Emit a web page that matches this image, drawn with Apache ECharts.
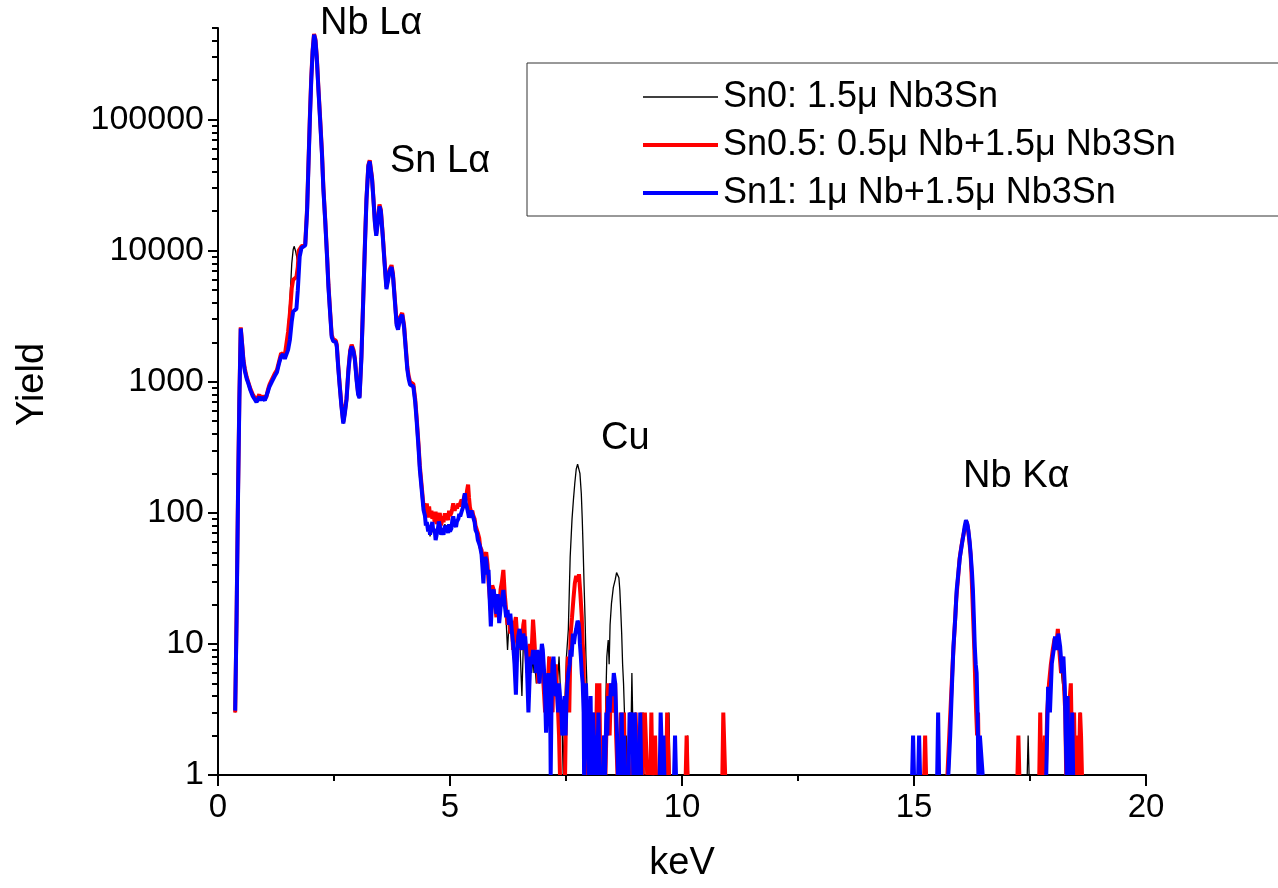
<!DOCTYPE html>
<html><head><meta charset="utf-8">
<script src="https://cdn.jsdelivr.net/npm/echarts@6/dist/echarts.min.js"></script>
<style>html,body{margin:0;padding:0;background:#fff}#c{width:1278px;height:888px}</style>
</head><body><div id="c"></div>
<script>
// ---- data (keV, yield); null = zero counts (gap) ----
const seriesNames = ['Sn0: 1.5\u03bc Nb3Sn', 'Sn0.5: 0.5\u03bc Nb+1.5\u03bc Nb3Sn', 'Sn1: 1\u03bc Nb+1.5\u03bc Nb3Sn'];
const peakLabels = ['Nb L\u03b1', 'Sn L\u03b1', 'Cu', 'Nb K\u03b1'];

const sn0Data = [
[0.37,3],[0.40,14],[0.43,115],[0.46,680],[0.49,2500],[0.52,1880],[0.55,1380],[0.58,1180],[0.62,1030],[0.65,960],[0.70,850],[0.75,770],[0.79,750],[0.83,700],[0.86,740],[0.89,760],[0.92,730],[0.95,760],[0.98,760],[1.01,780],[1.04,800],[1.08,880],[1.11,930],[1.16,1020],[1.22,1120],[1.27,1200],[1.32,1420],[1.36,1600],[1.40,1650],[1.44,1560],[1.47,1500],[1.51,2700],[1.55,4200],[1.59,8000],[1.62,10200],[1.64,10800],[1.67,10000],[1.71,8500],[1.74,8800],[1.77,9500],[1.80,10500],[1.84,10800],[1.88,11000],
[1.92,20000],[1.95,45000],[1.98,100000],[2.01,200000],[2.04,330000],[2.07,440000],[2.10,400000],[2.13,290000],[2.16,180000],[2.20,100000],[2.24,55000],[2.27,30000],[2.31,17000],[2.35,9000],[2.38,5300],[2.42,3200],[2.45,2200],[2.48,2050],[2.51,2030],[2.54,2000],[2.56,1860],[2.59,1300],[2.62,950],[2.66,650],[2.70,480],[2.73,560],[2.77,730],[2.81,1200],[2.85,1700],[2.88,1860],[2.92,1700],[2.95,1470],[2.99,1000],[3.02,800],[3.05,750],[3.09,1500],[3.13,4200],[3.17,12000],[3.20,24500],[3.24,44000],[3.27,48000],[3.29,47000],[3.32,35000],[3.35,24500],[3.38,16500],[3.41,13000],[3.45,17000],[3.48,21800],[3.51,20000],[3.55,13000],[3.59,8000],[3.63,5100],[3.66,5200],[3.70,7000],[3.74,7500],[3.77,6500],[3.81,4200],[3.85,2700],[3.88,2500],[3.92,3000],[3.97,3250],[4.01,2600],[4.05,1700],[4.08,1240],[4.11,1050],[4.14,950],[4.18,960],[4.21,920],[4.25,700],[4.28,510],[4.32,320],[4.35,213],[4.39,150],
[4.43,100],[4.46,90],[4.48,84],[4.50,78],[4.53,74],[4.55,80],[4.57,66],[4.60,78],[4.62,82],[4.64,70],[4.67,76],[4.69,64],[4.71,62],[4.74,78],[4.76,84],[4.78,80],[4.81,70],[4.84,76],[4.86,70],[4.89,82],[4.91,76],[4.93,80],[4.96,72],[4.98,80],[5.0,74],[5.03,78],[5.05,86],[5.07,92],[5.1,84],[5.13,80],[5.15,88],[5.18,92],[5.2,96],[5.22,96],[5.25,104],[5.28,108],[5.3,124],[5.32,136],[5.34,120],[5.36,110],[5.39,102],[5.41,94],[5.43,98],[5.46,100],[5.48,96],[5.5,97],[5.53,86],[5.55,76],[5.58,72],[5.6,64],[5.63,60],[5.65,54],[5.68,50],[5.70,40],[5.72,32],[5.74,42],[5.76,44],[5.78,42],[5.81,36],[5.83,34],[5.86,22],[5.88,16],[5.91,22],[5.94,24],[5.97,20],[6.0,18],[6.03,22],[6.06,16],[6.09,18],[6.12,20],[6.15,24],[6.18,18],[6.21,15],[6.24,9],[6.27,14],[6.3,16],[6.33,12],[6.36,9],[6.39,8],[6.42,6],[6.45,8],[6.47,10],[6.5,12],[6.53,6],[6.55,4],[6.58,10],[6.6,9],[6.62,10],[6.65,7],[6.67,5],[6.69,4],[6.72,7],[6.74,8],[6.76,6],[6.79,8],[6.81,6],[6.83,7],[6.86,5],[6.88,8],[6.9,6],[6.93,5],[6.96,7],[6.98,9],[7.0,8],[7.03,5],[7.05,4],[7.07,3],[7.1,5],[7.12,8],[7.14,6],[7.16,4],[7.18,3],[7.21,6],[7.23,7],[7.25,5],[7.28,4],[7.3,4],[7.33,6],[7.35,8],[7.37,8],[7.40,3],[7.42,2],[7.44,1],[7.47,3],[7.51,8],[7.55,12.8],[7.59,46],[7.63,90],[7.66,126],[7.69,169],[7.72,215],[7.75,235],[7.77,240],[7.80,200],[7.83,140],[7.85,90],[7.87,52],[7.89,28],[7.91,16],[7.93,8],[7.95,5],[7.97,2],[7.99,1],[8.02,3],[8.05,1],[8.08,2],[8.10,1],null,
[8.18,1],[8.20,3],[8.22,1],null,
[8.34,1],[8.36,4],[8.38,8],[8.41,10.7],[8.43,7],[8.45,14],[8.48,20.4],[8.52,27],[8.56,30.8],[8.59,35],[8.61,35.6],[8.64,32],[8.66,25.8],[8.68,18],[8.70,12],[8.72,7],[8.74,5],[8.76,3],[8.78,1],[8.80,2],[8.82,1],[8.85,1],[8.87,3],[8.90,2],[8.92,6],[8.94,6],[8.96,1],[9.00,3],[9.02,3],[9.04,1],null,
[9.14,1],[9.16,3],[9.18,1],null,
[9.70,1],[9.72,3],[9.74,1],null,
[10.10,1],[10.12,2],[10.14,1],null,
[15.76,1],[15.80,3],[15.84,7],[15.88,14],[15.91,24],[15.95,35],[15.98,45],[16.02,58],[16.05,68],[16.08,80],[16.11,88],[16.14,84],[16.17,72],[16.20,56],[16.23,42],[16.25,30],[16.27,20],[16.29,12],[16.31,8],[16.33,5],[16.35,3],[16.37,1],null,
[17.44,1],[17.46,2],[17.48,1],null,
[17.86,1],[17.90,4],[17.94,6],[17.98,8],[18.02,10],[18.06,11],[18.10,10],[18.13,9],[18.16,7],[18.20,5],[18.24,4],[18.27,2],[18.30,1],null,
[18.56,1],[18.58,3],[18.60,1]
];

const sn05Data = [
[0.37,3],[0.40,16],[0.43,130],[0.46,750],[0.49,2600],[0.52,1950],[0.55,1450],[0.58,1250],[0.62,1080],[0.65,1000],[0.70,880],[0.75,800],[0.79,780],[0.83,720],[0.86,760],[0.89,800],[0.92,740],[0.95,780],[0.98,750],[1.01,740],[1.04,760],[1.08,880],[1.11,950],[1.16,1040],[1.22,1150],[1.27,1230],[1.32,1450],[1.36,1650],[1.40,1700],[1.44,1600],[1.47,1550],[1.51,2400],[1.55,3340],[1.59,5200],[1.62,6000],[1.66,6200],[1.69,6300],[1.72,7500],[1.74,10000],[1.77,10200],[1.80,10800],[1.84,11000],[1.88,11200],
[1.92,21000],[1.95,47000],[1.98,105000],[2.01,210000],[2.04,340000],[2.07,450000],[2.10,410000],[2.13,300000],[2.16,185000],[2.20,104000],[2.24,57000],[2.27,31000],[2.31,17500],[2.35,9300],[2.38,5500],[2.42,3300],[2.45,2280],[2.48,2120],[2.51,2100],[2.54,2060],[2.56,1920],[2.59,1340],[2.62,980],[2.66,670],[2.70,495],[2.73,580],[2.77,750],[2.81,1240],[2.85,1750],[2.88,1920],[2.92,1750],[2.95,1510],[2.99,1030],[3.02,820],[3.05,770],[3.09,1550],[3.13,4350],[3.17,12400],[3.20,25000],[3.24,45000],[3.27,49000],[3.29,48000],[3.32,36000],[3.35,25000],[3.38,17000],[3.41,13400],[3.45,17500],[3.48,22500],[3.51,20500],[3.55,13400],[3.59,8300],[3.63,5300],[3.66,5400],[3.70,7200],[3.74,7750],[3.77,6700],[3.81,4350],[3.85,2800],[3.88,2600],[3.92,3100],[3.97,3350],[4.01,2700],[4.05,1780],[4.08,1300],[4.11,1100],[4.14,1000],[4.18,1010],[4.21,960],[4.25,740],[4.28,540],[4.32,340],[4.35,228],[4.39,160],
[4.43,112],[4.46,118],[4.48,100],[4.50,118],[4.53,92],[4.55,112],[4.57,95],[4.60,104],[4.62,90],[4.64,98],[4.67,85],[4.69,102],[4.71,82],[4.74,96],[4.76,88],[4.78,100],[4.81,80],[4.84,94],[4.86,85],[4.89,99],[4.91,90],[4.93,96],[4.96,88],[4.98,104],[5.0,95],[5.03,100],[5.05,108],[5.07,118],[5.1,104],[5.13,112],[5.15,108],[5.18,118],[5.2,112],[5.22,118],[5.25,126],[5.28,120],[5.3,130],[5.32,138],[5.34,125],[5.37,150],[5.39,164],[5.41,130],[5.43,110],[5.46,100],[5.48,104],[5.5,96],[5.53,90],[5.55,80],[5.58,78],[5.6,70],[5.63,64],[5.65,55],[5.68,52],[5.70,45],[5.72,40],[5.74,44],[5.76,48],[5.78,50],[5.81,40],[5.83,30],[5.86,22],[5.88,18],[5.91,28],[5.94,26],[5.97,20],[6.0,16],[6.03,22],[6.06,18],[6.09,26],[6.12,30],[6.15,36.7],[6.18,24],[6.21,18],[6.24,14],[6.27,16],[6.3,12],[6.33,15],[6.36,9],[6.39,14],[6.42,16],[6.45,11],[6.47,9],[6.5,12],[6.53,9],[6.55,10],[6.58,14],[6.6,15.3],[6.62,10],[6.65,8],[6.67,6],[6.69,8],[6.72,10],[6.74,8],[6.76,9],[6.79,15.3],[6.81,12],[6.83,9],[6.86,7],[6.88,8],[6.9,5],[6.93,7],[6.96,6],[6.98,9],[7.0,6],[7.03,4],[7.05,3],[7.07,5],[7.1,4],[7.12,6],[7.14,8],[7.16,8],[7.18,5],[7.21,3],[7.23,6],[7.25,4],[7.28,7],[7.3,5],[7.33,3],[7.35,2],[7.37,1],null,
[7.48,1],[7.50,3],[7.52,5],[7.54,8],[7.57,3],[7.60,12],[7.63,16],[7.66,22],[7.69,29],[7.72,33],[7.75,30],[7.78,34],[7.81,24],[7.84,16],[7.86,10],[7.88,7.8],[7.90,1],null,
[7.98,1],[8.00,2],[8.03,3],[8.06,1],[8.09,3],[8.12,1],[8.15,2],[8.17,5],[8.20,3],[8.22,5],[8.24,1],null,
[8.30,1],[8.33,2],[8.35,1],[8.38,3],[8.41,5],[8.44,2],[8.47,5],[8.50,5],[8.53,3],[8.56,5],[8.58,2],[8.61,1],null,
[8.66,1],[8.68,3],[8.70,3],[8.72,1],[8.75,3],[8.77,1],null,
[8.92,1],[8.95,2],[8.98,1],[9.00,3],[9.02,3],[9.04,1],null,
[9.11,1],[9.13,3],[9.15,1],[9.20,3],[9.23,3],[9.25,1],null,
[9.32,1],[9.34,3],[9.36,1],[9.40,1],[9.42,2],[9.44,1],null,
[9.66,1],[9.68,3],[9.70,3],[9.72,1],null,
[10.08,1],[10.10,2],[10.12,1],null,
[10.87,1],[10.89,3],[10.91,3],[10.93,1],null,
[15.22,1],[15.24,2],[15.26,1],null,
[15.72,1],[15.76,2],[15.80,4],[15.84,8],[15.88,14],[15.91,22],[15.95,32],[15.98,44],[16.02,55],[16.05,64],[16.08,72],[16.11,80],[16.13,86],[16.16,78],[16.19,62],[16.22,48],[16.24,34],[16.26,22],[16.28,14],[16.30,9],[16.32,5],[16.34,3],[16.36,2],[16.38,3],[16.40,1],null,
[17.23,1],[17.25,2],[17.27,1],null,
[17.70,1],[17.72,3],[17.74,1],null,
[17.80,1],[17.82,2],[17.84,1],[17.87,3],[17.91,5],[17.95,7],[17.99,9],[18.03,11],[18.07,10],[18.10,13],[18.13,9],[18.17,6],[18.20,8],[18.23,5],[18.26,3],[18.28,1],[18.31,3],[18.34,2],[18.36,4],[18.38,5],[18.40,2],[18.42,1],[18.45,3],[18.47,1],[18.52,2],[18.55,1],[18.58,3],[18.60,2],[18.62,1]
];

const sn1Data = [
[0.37,3.1],[0.40,15],[0.43,120],[0.46,700],[0.49,2550],[0.52,1900],[0.55,1400],[0.58,1200],[0.62,1050],[0.65,980],[0.70,860],[0.75,775],[0.79,760],[0.83,700],[0.86,730],[0.89,770],[0.92,720],[0.95,760],[0.98,740],[1.01,720],[1.04,740],[1.08,850],[1.11,920],[1.16,1000],[1.22,1100],[1.27,1180],[1.32,1400],[1.36,1560],[1.40,1620],[1.44,1500],[1.47,1470],[1.51,1750],[1.55,2100],[1.59,2900],[1.62,3440],[1.66,3550],[1.69,3600],[1.72,5000],[1.76,9000],[1.80,10500],[1.84,10800],[1.88,11000],
[1.92,20000],[1.95,45000],[1.98,100000],[2.01,200000],[2.04,330000],[2.07,445000],[2.10,400000],[2.13,290000],[2.16,180000],[2.20,100000],[2.24,55000],[2.27,30000],[2.31,17000],[2.35,9000],[2.38,5300],[2.42,3200],[2.45,2200],[2.48,2050],[2.51,2030],[2.54,2000],[2.56,1860],[2.59,1300],[2.62,950],[2.66,650],[2.70,480],[2.73,560],[2.77,730],[2.81,1200],[2.85,1700],[2.88,1860],[2.92,1700],[2.95,1470],[2.99,1000],[3.02,800],[3.05,750],[3.09,1500],[3.13,4200],[3.17,12000],[3.20,24500],[3.24,44000],[3.27,48000],[3.29,47000],[3.32,35000],[3.35,24500],[3.38,16500],[3.41,13000],[3.45,17000],[3.48,21800],[3.51,20000],[3.55,13000],[3.59,8000],[3.63,5100],[3.66,5200],[3.70,7000],[3.74,7500],[3.77,6500],[3.81,4200],[3.85,2700],[3.88,2500],[3.92,3000],[3.97,3250],[4.01,2600],[4.05,1700],[4.08,1240],[4.11,1050],[4.14,950],[4.18,960],[4.21,920],[4.25,700],[4.28,510],[4.32,320],[4.35,213],[4.39,150],
[4.43,105],[4.46,95],[4.48,80],[4.50,85],[4.53,72],[4.55,78],[4.57,68],[4.60,80],[4.62,85],[4.64,72],[4.67,75],[4.69,62],[4.71,60],[4.74,76],[4.76,86],[4.78,80],[4.81,68],[4.84,75],[4.86,68],[4.89,80],[4.91,74],[4.93,78],[4.96,70],[4.98,82],[5.0,72],[5.03,76],[5.05,88],[5.07,94],[5.1,82],[5.13,78],[5.15,86],[5.18,90],[5.2,98],[5.22,94],[5.25,102],[5.28,110],[5.3,128],[5.32,141],[5.34,118],[5.36,112],[5.39,100],[5.41,92],[5.43,96],[5.46,104],[5.48,98],[5.5,99],[5.53,85],[5.55,74],[5.58,70],[5.6,62],[5.63,58],[5.65,55],[5.68,48],[5.70,38],[5.72,29],[5.74,40],[5.76,46],[5.78,44],[5.81,34],[5.83,36.7],[5.86,20],[5.88,13.6],[5.91,24],[5.94,26],[5.97,21.7],[6.0,17],[6.03,24],[6.06,14.4],[6.09,19],[6.12,22],[6.15,25.8],[6.18,20],[6.21,16],[6.24,18.2],[6.27,14],[6.3,17],[6.33,12.8],[6.36,10],[6.39,7],[6.42,4.1],[6.45,9],[6.47,11.4],[6.5,13],[6.53,10],[6.55,9],[6.58,12],[6.6,10],[6.62,11.4],[6.65,8],[6.67,5],[6.69,3],[6.72,6],[6.74,8],[6.76,7.1],[6.79,9],[6.81,7],[6.83,8],[6.86,6],[6.88,9],[6.9,7.1],[6.93,5],[6.96,8],[6.98,10],[7.0,9],[7.03,6],[7.05,4],[7.07,2.1],[7.1,4],[7.12,6],[7.14,5],[7.16,3],[7.17,1],[7.19,4],[7.21,7],[7.23,8],[7.25,6],[7.28,4],[7.3,5],[7.33,3],[7.35,5],[7.37,4],[7.4,3],[7.42,2],[7.44,2],[7.47,4],[7.49,2],[7.51,3.5],[7.53,5],[7.55,6],[7.58,7],[7.6,9],[7.62,8],[7.65,12],[7.67,10],[7.69,11.4],[7.72,13],[7.75,15],[7.77,14.4],[7.79,12],[7.80,10],[7.82,8],[7.84,6],[7.86,5],[7.88,3],[7.89,1],[7.91,3],[7.93,5],[7.95,3],[7.97,2],[7.99,1],[8.01,2],[8.03,4],[8.05,1],[8.08,3],[8.10,2],[8.12,1],[8.15,2],[8.17,1],[8.20,3],[8.22,1],null,
[8.30,1],[8.32,2],[8.34,1],[8.37,3],[8.39,2],[8.41,4],[8.44,3],[8.47,5],[8.50,4],[8.53,6],[8.56,5],[8.58,3],[8.60,2],[8.62,1],null,
[8.68,1],[8.70,3],[8.72,1],[8.75,2],[8.77,1],null,
[8.85,1],[8.87,3],[8.90,2],[8.93,3],[8.95,1],[8.98,3],[9.00,2],[9.02,1],null,
[9.08,1],[9.10,3],[9.12,1],null,
[9.52,1],[9.54,3],[9.56,3],[9.58,1],[9.60,2],[9.62,1],null,
[9.83,1],[9.85,2],[9.87,1],null,
[14.96,1],[14.98,2],[15.00,1],null,
[15.09,1],[15.11,2],[15.13,1],null,
[15.50,1],[15.52,3],[15.54,1],null,
[15.74,1],[15.78,2],[15.82,5],[15.85,9.5],[15.89,16],[15.92,25.8],[15.96,36],[15.99,46],[16.03,57],[16.06,66],[16.09,78],[16.12,88],[16.15,82],[16.17,74],[16.20,60],[16.22,49],[16.25,35],[16.27,25.8],[16.29,16],[16.31,9.5],[16.33,7],[16.35,6],[16.37,3],[16.39,1],[16.42,2],[16.46,2],[16.48,1],null,
[17.85,1],[17.89,4.7],[17.93,3],[17.97,7.1],[18.01,9],[18.04,11.4],[18.08,9],[18.11,12],[18.15,9.5],[18.19,6],[18.22,8],[18.25,4.7],[18.27,2],[18.29,1],[18.31,4],[18.33,1],[18.36,2],[18.38,1],[18.41,3],[18.43,1]
];

// ---- chart ----
const FONT = '"Liberation Sans", Arial, sans-serif';
const minorY = [];
for (let d = 0; d <= 5; d++) for (let k = 2; k <= 9; k++) { const v = k * Math.pow(10, d); if (v <= 500000) minorY.push(v); }

const lineWidths = [1.3, 4, 4];
const lineColors = ['#000000', '#ff0000', '#0000ff'];

const chart = echarts.init(document.getElementById('c'), null, {renderer: 'canvas'});
const axisLineStyle = {color: '#000', width: 2};
chart.setOption({
  animation: false,
  backgroundColor: '#fff',
  textStyle: {fontFamily: FONT, color: '#000'},
  grid: {left: 218, right: 132, top: 28, bottom: 113},
  legend: {
    orient: 'vertical', left: 527, top: 63,
    padding: [16, 160, 5, 114],
    itemWidth: 75, itemHeight: 26, itemGap: 12,
    itemStyle: {opacity: 0},
    borderColor: '#333', borderWidth: 1,
    textStyle: {fontSize: 36, color: '#000', fontFamily: FONT},
    data: seriesNames.map((n, i) => ({name: n, lineStyle: {width: lineWidths[i], color: lineColors[i]}}))
  },
  xAxis: {
    type: 'value', min: 0, max: 20, interval: 5,
    name: 'keV', nameLocation: 'middle', nameGap: 70,
    nameTextStyle: {fontSize: 38, color: '#000', fontFamily: FONT},
    axisLine: {lineStyle: axisLineStyle},
    axisTick: {length: 11, lineStyle: axisLineStyle},
    minorTick: {show: true, splitNumber: 2, length: 6, lineStyle: axisLineStyle},
    axisLabel: {fontSize: 33, color: '#000', margin: 16, fontFamily: FONT},
    splitLine: {show: false}, minorSplitLine: {show: false}
  },
  yAxis: [{
    type: 'log', logBase: 10, min: 1, max: 500000,
    name: 'Yield', nameLocation: 'middle', nameGap: 166,
    nameTextStyle: {fontSize: 38, color: '#000', fontFamily: FONT, padding: [0, 0, 0, 34]},
    axisLine: {show: true, lineStyle: axisLineStyle},
    axisTick: {show: true, length: 10, lineStyle: axisLineStyle},
    axisLabel: {fontSize: 34, color: '#000', margin: 14, fontFamily: FONT, showMaxLabel: false,
      formatter: v => String(Math.round(v))},
    splitLine: {show: false}
  }, {
    type: 'log', logBase: 10, min: 1, max: 500000, position: 'left',
    axisLine: {show: false},
    axisTick: {show: true, length: 6, lineStyle: axisLineStyle, customValues: minorY},
    axisLabel: {show: false},
    splitLine: {show: false}
  }],
  graphic: [
    {type: 'text', left: 320, top: 5, style: {text: peakLabels[0], font: '38px ' + FONT, fill: '#000'}},
    {type: 'text', left: 390, top: 143, style: {text: peakLabels[1], font: '38px ' + FONT, fill: '#000'}},
    {type: 'text', left: 601, top: 420, style: {text: peakLabels[2], font: '38px ' + FONT, fill: '#000'}},
    {type: 'text', left: 963, top: 458, style: {text: peakLabels[3], font: '38px ' + FONT, fill: '#000'}}
  ],
  series: [sn0Data, sn05Data, sn1Data].map((d, i) => ({
    name: seriesNames[i], type: 'line', data: d, symbol: 'none', connectNulls: false,
    lineStyle: {color: lineColors[i], width: lineWidths[i]}, itemStyle: {color: lineColors[i]}
  }))
});
</script></body></html>
